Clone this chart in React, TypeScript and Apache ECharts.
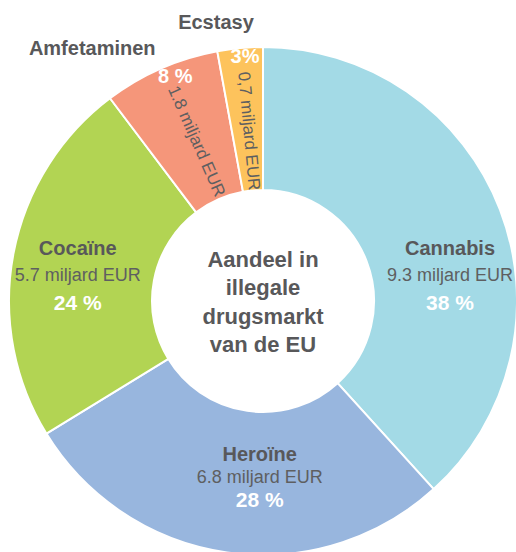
import React, { useEffect, useRef } from "react";
import * as echarts from "echarts";

// ---- data ----
const categories = ["Cannabis", "Heroïne", "Cocaïne", "Amfetaminen", "Ecstasy"];
const values = [9.3, 6.8, 5.7, 1.8, 0.7];
const valueLabels = [
  "9.3 miljard EUR",
  "6.8 miljard EUR",
  "5.7 miljard EUR",
  "1.8 miljard EUR",
  "0,7 miljard EUR",
];
const percentLabels = ["38 %", "28 %", "24 %", "8 %", "3%"];
const centerTitle = ["Aandeel in", "illegale", "drugsmarkt", "van de EU"];

// ---- styles / layout ----
const colors = ["#A3DAE6", "#98B6DE", "#B2D453", "#F5967A", "#FDC35C"];
const FONT = "'Liberation Sans', Arial, sans-serif";
const DARK = "#58585A";
const GREY = "#5E5F61";
const CX = 263;
const CY = 301;
const R0 = 111;
const R = 254;
const insideLineHeights = [27, 22.5, 27];
// offsets (for the radial labels, these are in the label's rotated frame)
const mainOffsets = [
  [14, 41],
  [23, -8],
  [-3, 9],
  [12.5, -3.5],
  [15, -1.5],
];
const pctOffsets = [
  [0, 0],
  [0, 0],
  [0, 0],
  [10, -3],
  [4, -3],
];
const nameOffsets = [
  [0, 0],
  [0, 0],
  [0, 0],
  [-55, 11],
  [-21, 8],
];
const smallCount = 3; // first 3 slices carry full inside labels

export default function App() {
  const ref = useRef<HTMLDivElement>(null);

  useEffect(() => {
    document.body.style.margin = "0";
    document.body.style.overflow = "hidden";
    if (!ref.current) return;
    const chart = echarts.init(ref.current, undefined, { renderer: "svg" });

    const mainData = categories.map((name, i) => {
      const base: any = {
        name,
        value: values[i],
        itemStyle: { color: colors[i] },
      };
      if (i < smallCount) {
        const lh = insideLineHeights[i];
        base.label = {
          show: true,
          position: "inside",
          formatter: `{n|${name}}\n{v|${valueLabels[i]}}\n{p|${percentLabels[i]}}`,
          rich: {
            n: { fontFamily: FONT, fontSize: 20, fontWeight: "bold", color: DARK, lineHeight: lh, align: "center" },
            v: { fontFamily: FONT, fontSize: 18, color: GREY, lineHeight: lh, align: "center" },
            p: { fontFamily: FONT, fontSize: 21, fontWeight: "bold", color: "#FFFFFF", lineHeight: lh, align: "center" },
          },
        };
      } else {
        base.label = {
          show: true,
          position: "inside",
          rotate: "radial",
          formatter: valueLabels[i],
          fontFamily: FONT,
          fontSize: 17,
          color: GREY,
        };
      }
      return base;
    });

    const overlayData = (kind: "pct" | "name") =>
      categories.map((name, i) => ({
        name,
        value: values[i],
        label:
          i < smallCount
            ? { show: false }
            : {
                show: true,
                position: "inside",
                formatter: kind === "pct" ? percentLabels[i] : name,
                fontFamily: FONT,
                fontSize: 20,
                fontWeight: "bold",
                color: kind === "pct" ? "#FFFFFF" : DARK,
              },
      }));

    const offsetFn = (arr: number[][]) => (params: any) => ({
      dx: arr[params.dataIndex][0],
      dy: arr[params.dataIndex][1],
    });

    chart.setOption({
      animation: false,
      graphic: [
        {
          type: "text",
          x: CX,
          y: CY + 1,
          z: 100,
          style: {
            text: centerTitle.join("\n"),
            fontFamily: FONT,
            fontSize: 22,
            fontWeight: "bold",
            fill: DARK,
            lineHeight: 28.5,
            textAlign: "center",
            textVerticalAlign: "middle",
            align: "center",
            verticalAlign: "middle",
          },
        },
      ],
      series: [
        {
          type: "pie",
          center: [CX, CY],
          radius: [R0, R],
          startAngle: 90,
          clockwise: true,
          avoidLabelOverlap: false,
          silent: true,
          itemStyle: { borderColor: "#FFFFFF", borderWidth: 2 },
          labelLine: { show: false },
          labelLayout: offsetFn(mainOffsets),
          data: mainData,
        },
        {
          type: "pie",
          center: [CX, CY],
          radius: [226, R],
          startAngle: 90,
          clockwise: true,
          avoidLabelOverlap: false,
          silent: true,
          itemStyle: { color: "rgba(0,0,0,0)", borderWidth: 0 },
          labelLine: { show: false },
          labelLayout: offsetFn(pctOffsets),
          data: overlayData("pct"),
        },
        {
          type: "pie",
          center: [CX, CY],
          radius: [270, 300],
          startAngle: 90,
          clockwise: true,
          avoidLabelOverlap: false,
          silent: true,
          itemStyle: { color: "rgba(0,0,0,0)", borderWidth: 0 },
          labelLine: { show: false },
          labelLayout: offsetFn(nameOffsets),
          data: overlayData("name"),
        },
      ],
    });

    return () => chart.dispose();
  }, []);

  return <div ref={ref} style={{ width: 516, height: 552 }} />;
}
